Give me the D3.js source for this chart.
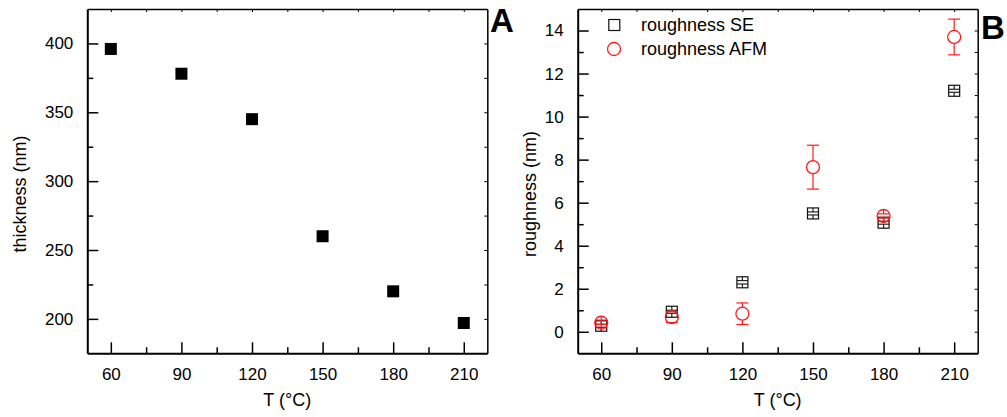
<!DOCTYPE html>
<html>
<head>
<meta charset="utf-8">
<script src="https://cdn.jsdelivr.net/npm/d3@7"></script>
<style>
  body { margin: 0; background: #fff; }
  svg { font-family: "Liberation Sans", Arial, sans-serif; }
  .axis path, .axis line { stroke: #000; }
  .axis text { font-size: 17px; fill: #000; }
</style>
</head>
<body>
<div id="plot"></div>
<script>
// data
const temps = [60, 90, 120, 150, 180, 210];
const thickness = [396, 378, 345, 260, 220, 197];
const roughSE = [0.28, 0.93, 2.3, 5.5, 5.07, 11.2];
const roughSEErr = [0.07, 0.07, 0.08, 0.07, 0.07, 0.07];
const roughAFM = [0.42, 0.68, 0.84, 7.65, 5.38, 13.7];
const roughAFMErr = [0.08, 0.25, 0.5, 1.02, 0.1, 0.83];

const xTicks = [60, 90, 120, 150, 180, 210];
const xMinor = [75, 105, 135, 165, 195];
const yTicksA = [200, 250, 300, 350, 400];
const yMinorA = [225, 275, 325, 375];
const yTicksB = [0, 2, 4, 6, 8, 10, 12, 14];
const yMinorB = [1, 3, 5, 7, 9, 11, 13];

const svg = d3.select("#plot").append("svg")
    .attr("width", 1007)
    .attr("height", 417);

const plotW = 400, plotH = 344.3, plotTop = 9;

function drawFrame(g, x, y, yTicks, yMinor, yTitle, titleX) {
    // bottom axis, ticks pointing in
    g.append("g").attr("class", "axis")
        .attr("transform", `translate(0,${plotH})`)
        .call(d3.axisBottom(x).tickValues(xTicks).tickSize(-11).tickPadding(15).tickSizeOuter(0))
        .call(a => a.select(".domain").attr("stroke-width", 2))
        .call(a => a.selectAll(".tick line").attr("stroke-width", 1.5));
    g.append("g").attr("class", "axis")
        .attr("transform", `translate(0,${plotH})`)
        .call(d3.axisBottom(x).tickValues(xMinor).tickSize(-6).tickFormat("").tickSizeOuter(0))
        .call(a => a.select(".domain").remove())
        .call(a => a.selectAll(".tick line").attr("stroke-width", 1.5));
    // left axis
    g.append("g").attr("class", "axis")
        .call(d3.axisLeft(y).tickValues(yTicks).tickSize(-11).tickPadding(14).tickSizeOuter(0))
        .call(a => a.select(".domain").attr("stroke-width", 2))
        .call(a => a.selectAll(".tick line").attr("stroke-width", 1.5));
    g.append("g").attr("class", "axis")
        .call(d3.axisLeft(y).tickValues(yMinor).tickSize(-6).tickFormat("").tickSizeOuter(0))
        .call(a => a.select(".domain").remove())
        .call(a => a.selectAll(".tick line").attr("stroke-width", 1.5));
    // top + right, small ticks
    g.append("g").attr("class", "axis")
        .call(d3.axisTop(x).tickValues(xTicks.concat(xMinor)).tickSize(-3).tickFormat("").tickSizeOuter(0))
        .call(a => a.select(".domain").attr("stroke-width", 1.5));
    g.append("g").attr("class", "axis")
        .attr("transform", `translate(${plotW},0)`)
        .call(d3.axisRight(y).tickValues(yTicks.concat(yMinor)).tickSize(-3).tickFormat("").tickSizeOuter(0))
        .call(a => a.select(".domain").attr("stroke-width", 1.5));

    g.append("text")
        .attr("x", plotW / 2)
        .attr("y", 397)
        .attr("text-anchor", "middle")
        .style("font-size", "18px")
        .text("T (°C)");
    g.append("text")
        .attr("transform", `translate(${titleX},${194 - plotTop}) rotate(-90)`)
        .attr("text-anchor", "middle")
        .style("font-size", "18px")
        .text(yTitle);
}

// ---- panel A ----
const gA = svg.append("g").attr("transform", `translate(87.3,${plotTop})`);
const xA = d3.scaleLinear().domain([50, 220]).range([0, plotW]);
const yA = d3.scaleLinear().domain([175, 425]).range([plotH, 0]);
drawFrame(gA, xA, yA, yTicksA, yMinorA, "thickness (nm)", -61);

gA.selectAll("rect.thick")
    .data(temps)
    .enter().append("rect")
    .attr("class", "thick")
    .attr("x", (d, i) => xA(d) - 6)
    .attr("y", (d, i) => yA(thickness[i]) - 6)
    .attr("width", 12)
    .attr("height", 12)
    .attr("fill", "#000");

// ---- panel B ----
const gB = svg.append("g").attr("transform", `translate(577.7,${plotTop})`);
const xB = d3.scaleLinear().domain([50, 220]).range([0, plotW]);
const yB = d3.scaleLinear().domain([-1, 15]).range([plotH, 0]);
drawFrame(gB, xB, yB, yTicksB, yMinorB, "roughness (nm)", -42);

// error bar: vertical from marker edge to cap, cap across
function errorBars(g, vals, errs, half, capW, color) {
    temps.forEach((t, i) => {
        const cx = xB(t), cy = yB(vals[i]);
        const yUp = yB(vals[i] + errs[i]), yDn = yB(vals[i] - errs[i]);
        const eb = g.append("g").attr("stroke", color).attr("stroke-width", 1.2);
        eb.append("line").attr("x1", cx).attr("x2", cx).attr("y1", cy - half).attr("y2", yUp);
        eb.append("line").attr("x1", cx).attr("x2", cx).attr("y1", cy + half).attr("y2", yDn);
        eb.append("line").attr("x1", cx - capW / 2).attr("x2", cx + capW / 2).attr("y1", yUp).attr("y2", yUp);
        eb.append("line").attr("x1", cx - capW / 2).attr("x2", cx + capW / 2).attr("y1", yDn).attr("y2", yDn);
    });
}

errorBars(gB, roughSE, roughSEErr, 5.5, 11, "#222");
gB.selectAll("rect.se")
    .data(temps)
    .enter().append("rect")
    .attr("class", "se")
    .attr("x", d => xB(d) - 5.5)
    .attr("y", (d, i) => yB(roughSE[i]) - 5.5)
    .attr("width", 11)
    .attr("height", 11)
    .attr("fill", "none")
    .attr("stroke", "#111")
    .attr("stroke-width", 1.2);

errorBars(gB, roughAFM, roughAFMErr, 6.5, 12, "#ff1a1a");
gB.selectAll("circle.afm")
    .data(temps)
    .enter().append("circle")
    .attr("class", "afm")
    .attr("cx", d => xB(d))
    .attr("cy", (d, i) => yB(roughAFM[i]))
    .attr("r", 6.5)
    .attr("fill", "none")
    .attr("stroke", "#ff1a1a")
    .attr("stroke-width", 1.3);

// legend
const leg = svg.append("g");
leg.append("rect").attr("x", 614.3 - 5.5).attr("y", 25 - 5.5).attr("width", 11).attr("height", 11)
    .attr("fill", "none").attr("stroke", "#111").attr("stroke-width", 1.2);
leg.append("circle").attr("cx", 614).attr("cy", 49).attr("r", 6.5)
    .attr("fill", "none").attr("stroke", "#ff1a1a").attr("stroke-width", 1.3);
leg.append("text").attr("x", 641).attr("y", 31).style("font-size", "18px").text("roughness SE");
leg.append("text").attr("x", 641).attr("y", 55).style("font-size", "18px").text("roughness AFM");

// panel letters
svg.append("text").attr("x", 490).attr("y", 32).style("font-size", "33px").style("font-weight", "bold").text("A");
svg.append("text").attr("x", 981).attr("y", 39).style("font-size", "33px").style("font-weight", "bold").text("B");
</script>
</body>
</html>
